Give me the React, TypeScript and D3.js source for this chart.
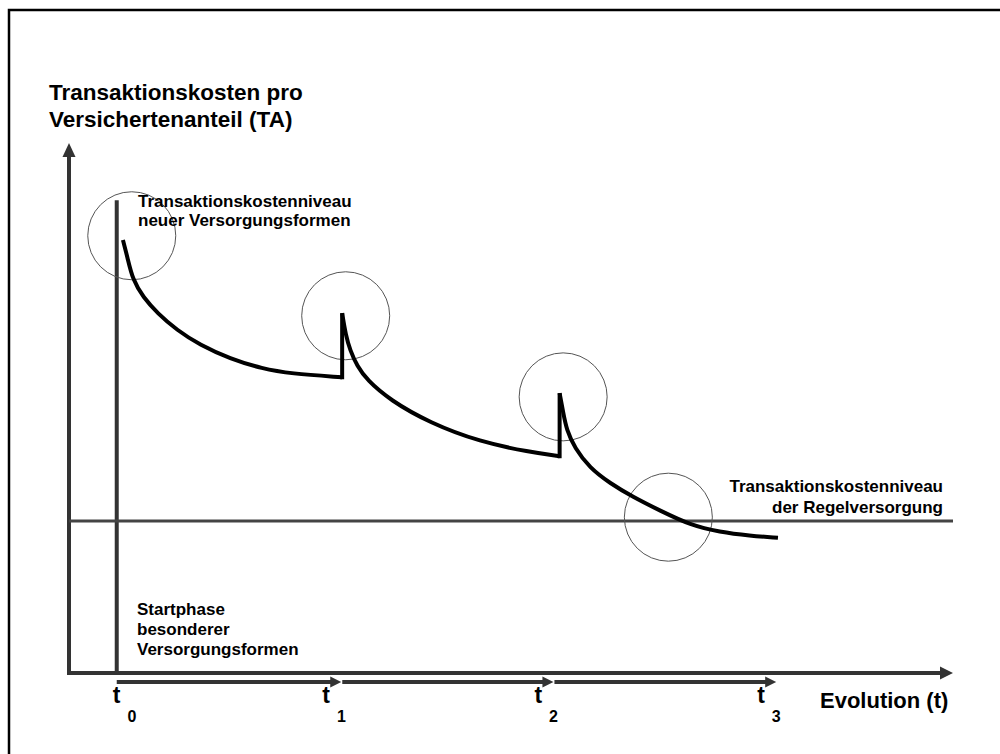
import React from 'react';
import * as d3 from 'd3';

// values, in chart units (x: 0..100 evolution, y: 0..100 cost)
const tTimes = [5.4, 30.8, 54.8, 80];
const tNames = ['0', '1', '2', '3'];
const regelLevel = 28.7;
const startLineTop = 89.2;

const phase1 = [[6.1, 81.7], [6.6, 78.5], [7.2, 74.2], [8.4, 70.9], [10.0, 67.9], [12.2, 64.7], [14.8, 61.9], [18.2, 59.3], [21.9, 57.4], [25.0, 56.5], [30.9, 55.8]];
const phase2 = [[30.9, 67.9], [31.3, 63.8], [31.8, 60.9], [32.6, 57.9], [33.7, 55.3], [36.3, 51.5], [40.8, 47.2], [46.5, 43.6], [52.1, 41.7], [55.5, 40.9]];
const phase3 = [[55.5, 52.8], [55.9, 49.2], [56.3, 45.8], [57.2, 42.5], [58.9, 38.7], [61.2, 35.8], [63.8, 33.2], [66.9, 30.6], [70.3, 27.9], [73.6, 26.6], [77.0, 25.9], [80.2, 25.5]];
const circles = [[7.1, 82.5], [31.3, 67.4], [55.9, 52.1], [67.8, 29.4]];

const W = 1000;
const H = 754;
const axisColor = '#333';
const font = '"Liberation Sans", Arial, sans-serif';

export default function App() {
  const x = d3.scaleLinear().domain([0, 100]).range([69, 953]);
  const y = d3.scaleLinear().domain([0, 100]).range([673, 143]);

  const line = d3.line<number[]>()
    .x(d => x(d[0]))
    .y(d => y(d[1]))
    .curve(d3.curveBasis);

  const phases = [phase1, phase2, phase3];
  // vertical jumps where a new form starts
  const jumps = [[phase1[phase1.length - 1], phase2[0]], [phase2[phase2.length - 1], phase3[0]]];

  const arrowY = y(0) + 9;

  return (
    <svg width={W} height={H} style={{position: 'absolute', left: 0, top: 0, background: '#fff'}} fontFamily={font}>
      <rect x={9} y={10} width={1200} height={1000} fill="none" stroke="#000" strokeWidth={2.5} />

      <text fontSize={22.5} fontWeight="bold" fill="#000">
        <tspan x={49} y={100}>Transaktionskosten pro</tspan>
        <tspan x={49} y={127}>Versichertenanteil (TA)</tspan>
      </text>

      {/* axes */}
      <line x1={x(0)} x2={x(0)} y1={y(0) + 2} y2={y(100) + 12} stroke={axisColor} strokeWidth={4} />
      <path d={`M${x(0)},${y(100)} L${x(0) - 6.5},${y(100) + 14} L${x(0) + 6.5},${y(100) + 14} Z`} fill={axisColor} />
      <line x1={x(0) - 2} x2={x(100) - 10} y1={y(0)} y2={y(0)} stroke={axisColor} strokeWidth={4} />
      <path d={`M${x(100)},${y(0)} L${x(100) - 13},${y(0) - 6.5} L${x(100) - 13},${y(0) + 6.5} Z`} fill={axisColor} />

      {/* start line */}
      <line x1={x(tTimes[0])} x2={x(tTimes[0])} y1={y(0)} y2={y(startLineTop)} stroke={axisColor} strokeWidth={4} />

      {/* regular care level */}
      <line x1={x(0)} x2={x(100)} y1={y(regelLevel)} y2={y(regelLevel)} stroke="#444" strokeWidth={3} />

      {circles.map((c, i) => (
        <circle key={i} cx={x(c[0])} cy={y(c[1])} r={44} fill="none" stroke="#555" strokeWidth={1} />
      ))}

      {phases.map((p, i) => (
        <path key={i} d={line(p) || ''} fill="none" stroke="#000" strokeWidth={4} />
      ))}
      {jumps.map((j, i) => (
        <line key={i} x1={x(j[0][0])} x2={x(j[1][0])} y1={y(j[0][1]) + 2} y2={y(j[1][1])} stroke="#000" strokeWidth={4} />
      ))}

      {/* evolution arrows between t_i */}
      {tTimes.slice(1).map((t, i) => {
        const x0 = x(tTimes[i]) + (i === 0 ? 0 : 1);
        const x1 = x(t);
        return (
          <g key={i}>
            <line x1={x0} x2={x1 - 10} y1={arrowY} y2={arrowY} stroke={axisColor} strokeWidth={4} />
            <path d={`M${x1},${arrowY} L${x1 - 11},${arrowY - 5.5} L${x1 - 11},${arrowY + 5.5} Z`} fill={axisColor} />
          </g>
        );
      })}

      {tTimes.map((t, i) => (
        <text key={i} fontWeight="bold" fill="#000">
          <tspan x={x(t) - (i === 0 ? 4 : 19)} y={703} fontSize={23}>t</tspan>
          <tspan dx={7} y={722} fontSize={16}>{tNames[i]}</tspan>
        </text>
      ))}

      <text x={820} y={708} fontSize={22} fontWeight="bold" fill="#000">Evolution (t)</text>

      <text fontSize={17} fontWeight="bold" fill="#000">
        <tspan x={138} y={207}>Transaktionskostenniveau</tspan>
        <tspan x={138} y={226}>neuer Versorgungsformen</tspan>
      </text>

      <text fontSize={17} fontWeight="bold" fill="#000" textAnchor="end">
        <tspan x={943} y={492}>Transaktionskostenniveau</tspan>
        <tspan x={943} y={513}>der Regelversorgung</tspan>
      </text>

      <text fontSize={17} fontWeight="bold" fill="#000">
        <tspan x={137} y={615}>Startphase</tspan>
        <tspan x={137} y={635}>besonderer</tspan>
        <tspan x={137} y={655}>Versorgungsformen</tspan>
      </text>
    </svg>
  );
}
